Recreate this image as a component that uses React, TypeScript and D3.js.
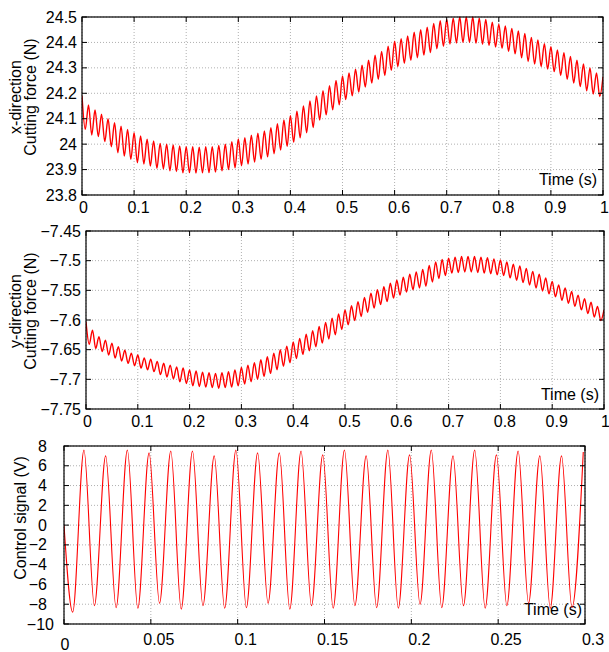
import React from 'react';
import * as d3 from 'd3';

const WIDTH = 609;
const HEIGHT = 652;
const FONT = 'Liberation Sans, Arial, Helvetica, sans-serif';

// the forces oscillate at about 80 Hz: one peak and one trough per cycle
const CYCLE = 1 / 80;

// x-direction cutting force (N), peak of each cycle (t = k/80)
const xPeaks = [
  24.19, 24.154, 24.134, 24.118, 24.1, 24.084, 24.071, 24.058, 24.045, 24.032,
  24.019, 24.013, 24.003, 24.0, 23.997, 23.993, 23.99, 23.99, 23.988, 23.99,
  23.99, 23.995, 24.0, 24.01, 24.02, 24.025, 24.035, 24.043, 24.052, 24.065,
  24.08, 24.095, 24.112, 24.13, 24.15, 24.17, 24.19, 24.21, 24.23, 24.25,
  24.268, 24.28, 24.295, 24.31, 24.33, 24.35, 24.365, 24.385, 24.405, 24.415,
  24.425, 24.44, 24.45, 24.46, 24.475, 24.485, 24.49, 24.495, 24.5, 24.5,
  24.5, 24.495, 24.49, 24.48, 24.472, 24.465, 24.455, 24.445, 24.435, 24.42,
  24.41, 24.395, 24.383, 24.37, 24.36, 24.345, 24.33, 24.315, 24.3, 24.28,
  24.265,
];
// x-direction cutting force (N), trough of each cycle
const xTroughs = [
  24.058, 24.036, 24.03, 24.01, 23.99, 23.966, 23.953, 23.94, 23.927, 23.922,
  23.914, 23.905, 23.903, 23.895, 23.892, 23.887, 23.888, 23.886, 23.887, 23.888,
  23.89, 23.895, 23.9, 23.907, 23.915, 23.922, 23.93, 23.94, 23.95, 23.962,
  23.977, 23.992, 24.008, 24.025, 24.045, 24.065, 24.095, 24.115, 24.135, 24.155,
  24.175, 24.19, 24.205, 24.225, 24.24, 24.255, 24.27, 24.29, 24.305, 24.318,
  24.33, 24.34, 24.35, 24.36, 24.375, 24.385, 24.394, 24.398, 24.4, 24.4,
  24.397, 24.393, 24.388, 24.382, 24.377, 24.365, 24.355, 24.34, 24.325, 24.315,
  24.305, 24.295, 24.285, 24.27, 24.255, 24.24, 24.226, 24.21, 24.197, 24.187,
];

// y-direction cutting force (N), peaks
const yPeaks = [
  -7.603, -7.617, -7.628, -7.634, -7.639, -7.645, -7.651, -7.656, -7.659, -7.664,
  -7.666, -7.67, -7.673, -7.676, -7.679, -7.681, -7.684, -7.686, -7.688, -7.689,
  -7.69, -7.689, -7.687, -7.684, -7.68, -7.676, -7.672, -7.667, -7.662, -7.656,
  -7.65, -7.644, -7.637, -7.631, -7.624, -7.618, -7.611, -7.604, -7.597, -7.59,
  -7.583, -7.576, -7.569, -7.562, -7.555, -7.549, -7.544, -7.538, -7.533, -7.528,
  -7.523, -7.519, -7.515, -7.508, -7.502, -7.498, -7.496, -7.494, -7.493, -7.493,
  -7.493, -7.494, -7.495, -7.497, -7.499, -7.502, -7.506, -7.509, -7.513, -7.518,
  -7.523, -7.529, -7.535, -7.541, -7.546, -7.552, -7.558, -7.564, -7.57, -7.577,
  -7.583,
];
// y-direction cutting force (N), troughs
const yTroughs = [
  -7.641, -7.648, -7.653, -7.659, -7.664, -7.669, -7.673, -7.677, -7.681, -7.684,
  -7.687, -7.692, -7.696, -7.699, -7.704, -7.707, -7.711, -7.712, -7.713, -7.714,
  -7.715, -7.714, -7.713, -7.711, -7.708, -7.704, -7.7, -7.695, -7.69, -7.684,
  -7.678, -7.672, -7.665, -7.658, -7.652, -7.645, -7.639, -7.632, -7.625, -7.616,
  -7.608, -7.601, -7.594, -7.587, -7.58, -7.574, -7.569, -7.563, -7.558, -7.553,
  -7.549, -7.546, -7.543, -7.536, -7.53, -7.525, -7.521, -7.52, -7.519, -7.519,
  -7.52, -7.521, -7.522, -7.524, -7.525, -7.529, -7.533, -7.537, -7.541, -7.546,
  -7.551, -7.556, -7.561, -7.567, -7.572, -7.577, -7.583, -7.589, -7.595, -7.601,
];

// control signal (V), one trough then one peak per cycle
const ctrlTroughs = [
  -8.8, -8.15, -8.35, -8.4, -7.9, -8.5, -8.15, -8.4, -8.35, -7.9, -8.5, -8.15,
  -8.4, -8.15, -8.35, -8.4, -8.0, -8.35, -8.15, -8.4, -8.15, -7.9, -8.4, -8.35,
];
const ctrlPeaks = [
  7.6, 7.0, 7.6, 7.3, 7.5, 7.5, 7.0, 7.6, 7.3, 7.3, 7.5, 7.1,
  7.6, 7.0, 7.6, 7.1, 7.6, 7.0, 7.6, 7.1, 7.5, 7.0, 7.0, 7.4,
];

const forceTimeTicks = [0, 0.1, 0.2, 0.3, 0.4, 0.5, 0.6, 0.7, 0.8, 0.9, 1];
const xForceTicks = [23.8, 23.9, 24, 24.1, 24.2, 24.3, 24.4, 24.5];
const yForceTicks = [-7.75, -7.7, -7.65, -7.6, -7.55, -7.5, -7.45];
const ctrlTimeTicks = [0, 0.05, 0.1, 0.15, 0.2, 0.25, 0.3];
const ctrlTicks = [-10, -8, -6, -4, -2, 0, 2, 4, 6, 8];

type Pt = [number, number];

function forceSeries(peaks: number[], troughs: number[]): Pt[] {
  const pts: Pt[] = [];
  peaks.forEach((p, k) => {
    pts.push([k * CYCLE, p]);
    if (k < troughs.length) pts.push([(k + 0.5) * CYCLE, troughs[k]]);
  });
  return pts;
}

function ctrlSeries(): Pt[] {
  const pts: Pt[] = [[0, 0]];
  ctrlTroughs.forEach((v, k) => {
    pts.push([0.005 + k * CYCLE, v]);
    pts.push([0.0115 + k * CYCLE, ctrlPeaks[k]]);
  });
  return pts;
}

const fmt = (v: number) => String(+v.toFixed(2)).replace('-', '\u2212');

interface PanelProps {
  id: string;
  left: number; right: number; top: number; bottom: number;
  xDomain: [number, number]; yDomain: [number, number];
  xTicks: number[]; yTicks: number[];
  data: Pt[];
  lineWidth: number;
  yTitle: string[];
  titleX: number[];
  titleShift: number;
  xLabelY: (v: number, i: number) => number;
  xLabelDx: (v: number, i: number) => number;
  yLabelX: (v: number) => number;
  timeX: number; timeY: number;
}

function Panel(p: PanelProps) {
  const x = d3.scaleLinear().domain(p.xDomain).range([p.left, p.right]);
  const y = d3.scaleLinear().domain(p.yDomain).range([p.bottom, p.top]);
  const line = d3.line<Pt>().x(d => x(d[0])).y(d => y(d[1])).curve(d3.curveMonotoneX);
  const w = p.right - p.left;
  const h = p.bottom - p.top;
  const cy = (p.top + p.bottom) / 2 - p.titleShift;
  return (
    <g>
      <defs>
        <clipPath id={p.id}>
          <rect x={p.left} y={p.top - 1} width={w} height={h + 2} />
        </clipPath>
      </defs>
      <rect x={p.left} y={p.top} width={w} height={h} fill="#fff" />
      {p.xTicks.map(t => (
        <line key={'gx' + t} x1={x(t)} x2={x(t)} y1={p.top} y2={p.bottom}
          stroke="#b0b0b0" strokeDasharray="1,2" />
      ))}
      {p.yTicks.map(t => (
        <line key={'gy' + t} x1={p.left} x2={p.right} y1={y(t)} y2={y(t)}
          stroke="#b0b0b0" strokeDasharray="1,2" />
      ))}
      <text x={p.timeX} y={p.timeY} textAnchor="end" fontSize={16} fontFamily={FONT}>Time (s)</text>
      <path d={line(p.data) || ''} fill="none" stroke="#ff0000" strokeWidth={p.lineWidth}
        clipPath={`url(#${p.id})`} strokeLinejoin="round" />
      <rect x={p.left} y={p.top} width={w} height={h} fill="none" stroke="#000" strokeWidth={1.2} />
      {p.xTicks.map(t => (
        <g key={'tx' + t}>
          <line x1={x(t)} x2={x(t)} y1={p.bottom} y2={p.bottom - 5} stroke="#000" />
          <line x1={x(t)} x2={x(t)} y1={p.top} y2={p.top + 5} stroke="#000" />
        </g>
      ))}
      {p.yTicks.map(t => (
        <g key={'ty' + t}>
          <line x1={p.left} x2={p.left + 5} y1={y(t)} y2={y(t)} stroke="#000" />
          <line x1={p.right} x2={p.right - 5} y1={y(t)} y2={y(t)} stroke="#000" />
        </g>
      ))}
      {p.xTicks.map((t, i) => (
        <text key={'lx' + t} x={x(t) + p.xLabelDx(t, i)} y={p.xLabelY(t, i)} textAnchor="middle"
          fontSize={16} fontFamily={FONT}>{fmt(t)}</text>
      ))}
      {p.yTicks.map(t => (
        <text key={'ly' + t} x={p.yLabelX(t)} y={y(t)} dy="0.35em" textAnchor="end"
          fontSize={16} fontFamily={FONT}>{fmt(t)}</text>
      ))}
      {p.yTitle.map((s, i) => (
        <text key={s} transform={`translate(${p.titleX[i]},${cy}) rotate(-90)`} textAnchor="middle"
          fontSize={16} fontFamily={FONT}>{s}</text>
      ))}
    </g>
  );
}

export default function App() {
  const xData = forceSeries(xPeaks, xTroughs);
  const yData = forceSeries(yPeaks, yTroughs);
  const cData = ctrlSeries();
  const forceDx = (v: number) => (v === 0 || v === 1 ? 1.5 : 4.5);
  return (
    <svg width={WIDTH} height={HEIGHT} style={{ position: 'absolute', left: 0, top: 0, background: '#fff' }}>
      <rect width={WIDTH} height={HEIGHT} fill="#fff" />
      <Panel id="clipX" left={82} right={603} top={17} bottom={195}
        xDomain={[0, 1]} yDomain={[23.8, 24.5]} xTicks={forceTimeTicks} yTicks={xForceTicks}
        data={xData} lineWidth={1.4}
        yTitle={['x-direction', 'Cutting force (N)']} titleX={[21, 36]} titleShift={9}
        xLabelY={() => 213} xLabelDx={forceDx} yLabelX={() => 77}
        timeX={597} timeY={185} />
      <Panel id="clipY" left={86} right={604} top={231} bottom={409}
        xDomain={[0, 1]} yDomain={[-7.75, -7.45]} xTicks={forceTimeTicks} yTicks={yForceTicks}
        data={yData} lineWidth={1.4}
        yTitle={['y-direction', 'Cutting force (N)']} titleX={[21, 36]} titleShift={9}
        xLabelY={() => 427} xLabelDx={forceDx} yLabelX={() => 81}
        timeX={599} timeY={400} />
      <Panel id="clipC" left={64} right={585} top={446} bottom={624}
        xDomain={[0, 0.3]} yDomain={[-10, 8]} xTicks={ctrlTimeTicks} yTicks={ctrlTicks}
        data={cData} lineWidth={1.1}
        yTitle={['Control signal (V)']} titleX={[26]} titleShift={17}
        xLabelY={v => (v === 0 ? 650 : 645)} xLabelDx={v => (v === 0 ? 1 : 8)}
        yLabelX={v => (v === -10 ? 54 : 47)}
        timeX={582} timeY={615} />
    </svg>
  );
}
